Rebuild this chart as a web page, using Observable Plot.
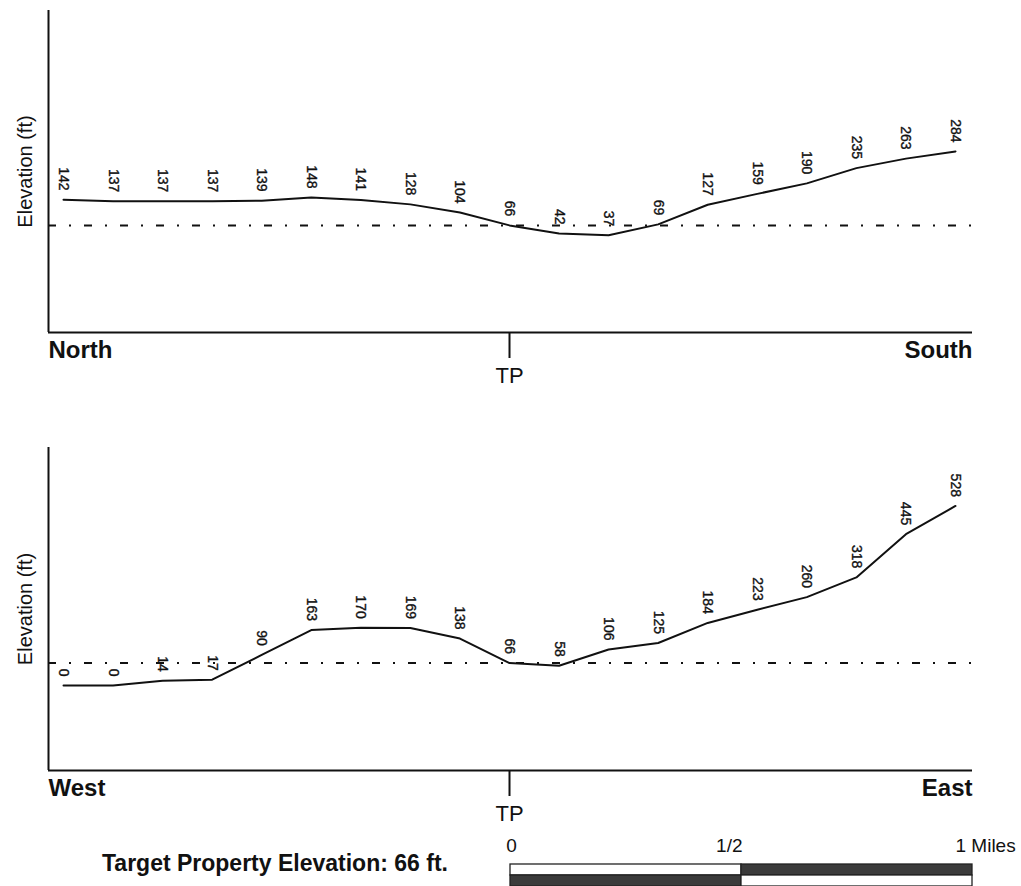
<!DOCTYPE html>
<html>
<head>
<meta charset="utf-8">
<script src="https://cdn.jsdelivr.net/npm/d3@7"></script>
<script src="https://cdn.jsdelivr.net/npm/@observablehq/plot@0.6"></script>
<style>
  html, body { margin: 0; padding: 0; background: #fff; }
  #wrap { position: relative; width: 1021px; height: 886px; overflow: hidden; font-family: "Liberation Sans", Arial, sans-serif; color: #111; }
  .slot { position: absolute; left: 0; }
  #caption { position: absolute; left: 102px; top: 852px; font-size: 23px; line-height: 23px; font-weight: bold; white-space: nowrap; }
</style>
</head>
<body>
<div id="wrap">
  <div class="slot" id="top" style="top:0px"></div>
  <div class="slot" id="bottom" style="top:437px"></div>
  <div class="slot" id="footer" style="top:830px"></div>
  <div id="caption"></div>
</div>
<script>
// ---- data ----
const stations = [0, 1, 2, 3, 4, 5, 6, 7, 8, 9, 10, 11, 12, 13, 14, 15, 16, 17, 18];
const northSouthElev = [142, 137, 137, 137, 139, 148, 141, 128, 104, 66, 42, 37, 69, 127, 159, 190, 235, 263, 284];
const westEastElev = [0, 0, 14, 17, 90, 163, 170, 169, 138, 66, 58, 106, 125, 184, 223, 260, 318, 445, 528];
const targetElevation = 66;
const tpStation = 9;
const tpLabel = "TP";
const yAxisLabel = "Elevation (ft)";
const captionText = "Target Property Elevation: 66 ft.";
const scaleTicks = [0, 0.5, 1];
const scaleTickLabels = ["0", "1/2", "1 Miles"];
const scaleRows = ["upper", "lower"];
const scaleFrom = [0, 0.5, 0, 0.5];
const scaleTo = [0.5, 1, 0.5, 1];
const scaleRowOf = ["upper", "upper", "lower", "lower"];
const scaleDark = [false, true, true, false];

// scale domains
const xDomain = [-0.303, 18.343];
const yDomain = [-250, 700];

const FONT = "Liberation Sans, Arial, sans-serif";
const INK = "#111";

function panel(elev, leftLabel, rightLabel, height, marginBottom) {
  const data = stations.map((s, i) => ({s, e: elev[i]}));
  return Plot.plot({
    width: 1021,
    height,
    marginTop: 10,
    marginLeft: 48,
    marginRight: 49,
    marginBottom,
    style: {fontFamily: FONT, color: INK, background: "transparent", overflow: "visible"},
    x: {domain: xDomain, axis: null},
    y: {domain: yDomain, axis: null},
    marks: [
      Plot.ruleY([targetElevation], {stroke: INK, strokeWidth: 2, strokeDasharray: "8,13,2,13"}),
      Plot.ruleX([xDomain[0]], {stroke: INK, strokeWidth: 2}),
      Plot.ruleY([yDomain[0]], {stroke: INK, strokeWidth: 2}),
      Plot.line(data, {x: "s", y: "e", stroke: INK, strokeWidth: 2}),
      Plot.text(data, {
        x: "s", y: "e", text: d => String(d.e),
        rotate: 90, textAnchor: "end", lineAnchor: "middle",
        dy: -9, fontSize: 14, fill: INK, stroke: INK, strokeWidth: 0.35
      }),
      Plot.axisX({
        ticks: [tpStation], tickSize: 26, tickPadding: 9,
        tickFormat: () => tpLabel, fontSize: 22, strokeWidth: 2,
        stroke: INK, fill: INK, label: null
      }),
      Plot.text([leftLabel], {
        frameAnchor: "bottom-left", textAnchor: "start", lineAnchor: "top",
        dy: 8, fontSize: 24, fontWeight: "bold", fill: INK
      }),
      Plot.text([rightLabel], {
        frameAnchor: "bottom-right", textAnchor: "end", lineAnchor: "top",
        dy: 8, fontSize: 24, fontWeight: "bold", fill: INK
      }),
      Plot.text([yAxisLabel], {
        frameAnchor: "left", rotate: -90, textAnchor: "middle", lineAnchor: "bottom",
        dx: -17, fontSize: 20, fill: INK
      })
    ]
  });
}

document.getElementById("top").append(panel(northSouthElev, "North", "South", 437, 105));
document.getElementById("bottom").append(panel(westEastElev, "West", "East", 393, 60));

// ---- scale bar ----
const segments = scaleFrom.map((f, i) => ({from: f, to: scaleTo[i], row: scaleRowOf[i], dark: scaleDark[i]}));
const tickAnchors = ["middle", "end", "start"];
const tickDx = [1, 1, -17];
const scaleBar = Plot.plot({
  width: 1021,
  height: 60,
  marginTop: 33,
  marginBottom: 4,
  marginLeft: 510,
  marginRight: 49,
  style: {fontFamily: FONT, color: INK, background: "transparent", overflow: "visible"},
  x: {domain: [0, 1], axis: null},
  y: {domain: scaleRows, axis: null, padding: 0},
  marks: [
    Plot.barX(segments, {
      x1: "from", x2: "to", y: "row",
      fill: d => d.dark ? "#3b3b3b" : "#ffffff",
      stroke: "#222", strokeWidth: 1.3
    }),
    ...scaleTicks.map((t, i) => Plot.text([t], {
      x: d => d, text: () => scaleTickLabels[i],
      frameAnchor: "top", textAnchor: tickAnchors[i], lineAnchor: "bottom",
      dy: -12, dx: tickDx[i], fontSize: 19, fill: INK
    }))
  ]
});
document.getElementById("footer").append(scaleBar);
document.getElementById("caption").textContent = captionText;
</script>
</body>
</html>
